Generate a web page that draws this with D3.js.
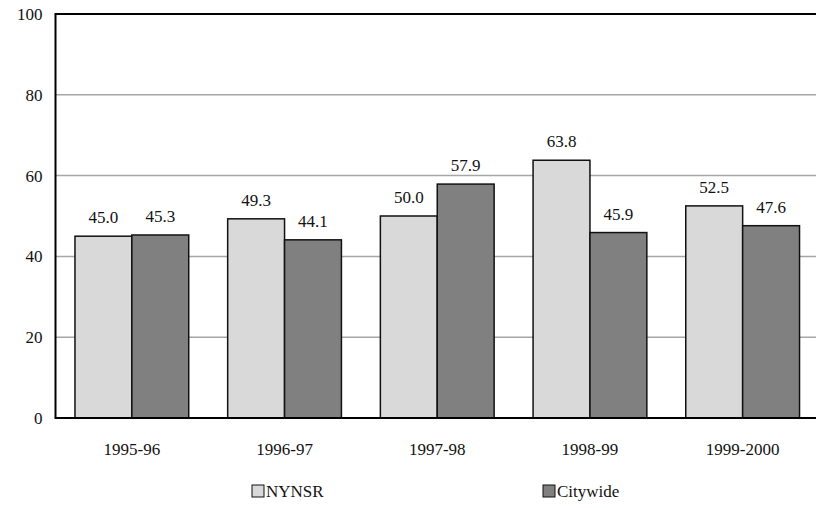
<!DOCTYPE html>
<html>
<head>
<meta charset="utf-8">
<script src="https://cdn.jsdelivr.net/npm/d3@7"></script>
<style>
  html, body { margin: 0; padding: 0; background: #fff; }
</style>
</head>
<body>
<svg id="chart" width="816" height="508" font-family="Liberation Serif, Times New Roman, serif"></svg>
<script>
// School years and the two compared series
const years = ["1995-96", "1996-97", "1997-98", "1998-99", "1999-2000"];
const nynsr = [45.0, 49.3, 50.0, 63.8, 52.5];
const citywide = [45.3, 44.1, 57.9, 45.9, 47.6];
const seriesNames = ["NYNSR", "Citywide"];
const seriesColors = ["#d9d9d9", "#808080"];
const yTicks = [0, 20, 40, 60, 80, 100];

const FONT = "Liberation Serif, Times New Roman, serif";
const FONT_SIZE = 17;

const svg = d3.select("#chart");
const plot = { left: 55.5, top: 14, right: 819, bottom: 418 };

const x = d3.scaleBand().domain(years).range([plot.left, plot.right]).paddingInner(0.255).paddingOuter(0.1275);
const xs = d3.scaleBand().domain(seriesNames).range([0, x.bandwidth()]);
const y = d3.scaleLinear().domain([0, 100]).range([plot.bottom, plot.top]);

// horizontal gridlines
svg.append("g")
  .selectAll("line")
  .data(yTicks.filter(t => t > 0 && t < 100))
  .join("line")
  .attr("x1", plot.left).attr("x2", plot.right)
  .attr("y1", d => y(d)).attr("y2", d => y(d))
  .attr("stroke", "#a6a6a6").attr("stroke-width", 1.5);

// bars
const rows = years.map((yr, i) => ({ year: yr, values: [nynsr[i], citywide[i]] }));
const groups = svg.append("g").selectAll("g")
  .data(rows).join("g")
  .attr("transform", d => `translate(${x(d.year)},0)`);

groups.selectAll("rect")
  .data(d => d.values.map((v, k) => ({ name: seriesNames[k], value: v, k })))
  .join("rect")
  .attr("x", d => xs(d.name))
  .attr("width", xs.bandwidth())
  .attr("y", d => y(d.value))
  .attr("height", d => y(0) - y(d.value))
  .attr("fill", d => seriesColors[d.k])
  .attr("stroke", "#111")
  .attr("stroke-width", 1.5);

// value labels
groups.selectAll("text")
  .data(d => d.values.map((v, k) => ({ name: seriesNames[k], value: v })))
  .join("text")
  .attr("x", d => xs(d.name) + xs.bandwidth() / 2)
  .attr("y", d => y(d.value) - 13)
  .attr("text-anchor", "middle")
  .attr("font-family", FONT)
  .attr("font-size", FONT_SIZE)
  .attr("fill", "#111")
  .text(d => d.value.toFixed(1));

// frame: top, left and bottom edges
svg.append("path")
  .attr("d", `M${plot.right},${plot.top}H${plot.left}V${plot.bottom}H${plot.right}`)
  .attr("fill", "none").attr("stroke", "#000").attr("stroke-width", 2);

// y axis labels
const yAxis = d3.axisLeft(y).tickValues(yTicks).tickSize(0).tickPadding(13);
svg.append("g")
  .attr("transform", `translate(${plot.left},0)`)
  .call(yAxis)
  .attr("font-family", FONT)
  .call(g => g.select(".domain").remove())
  .call(g => g.selectAll("text").attr("font-size", FONT_SIZE).attr("fill", "#111"));

// x axis labels
const xAxis = d3.axisBottom(x).tickSize(0).tickPadding(25);
svg.append("g")
  .attr("transform", `translate(0,${plot.bottom})`)
  .call(xAxis)
  .attr("font-family", FONT)
  .call(g => g.select(".domain").remove())
  .call(g => g.selectAll("text").attr("font-size", FONT_SIZE).attr("fill", "#111"));

// legend
const legendX = [252, 543];
const legend = svg.append("g").selectAll("g")
  .data(seriesNames).join("g")
  .attr("transform", (d, i) => `translate(${legendX[i]},485)`);
legend.append("rect")
  .attr("width", 12).attr("height", 12)
  .attr("fill", (d, i) => seriesColors[i])
  .attr("stroke", "#111").attr("stroke-width", 1);
legend.append("text")
  .attr("x", 14).attr("y", 12)
  .attr("font-family", FONT)
  .attr("font-size", FONT_SIZE).attr("fill", "#111")
  .text(d => d);
</script>
</body>
</html>
